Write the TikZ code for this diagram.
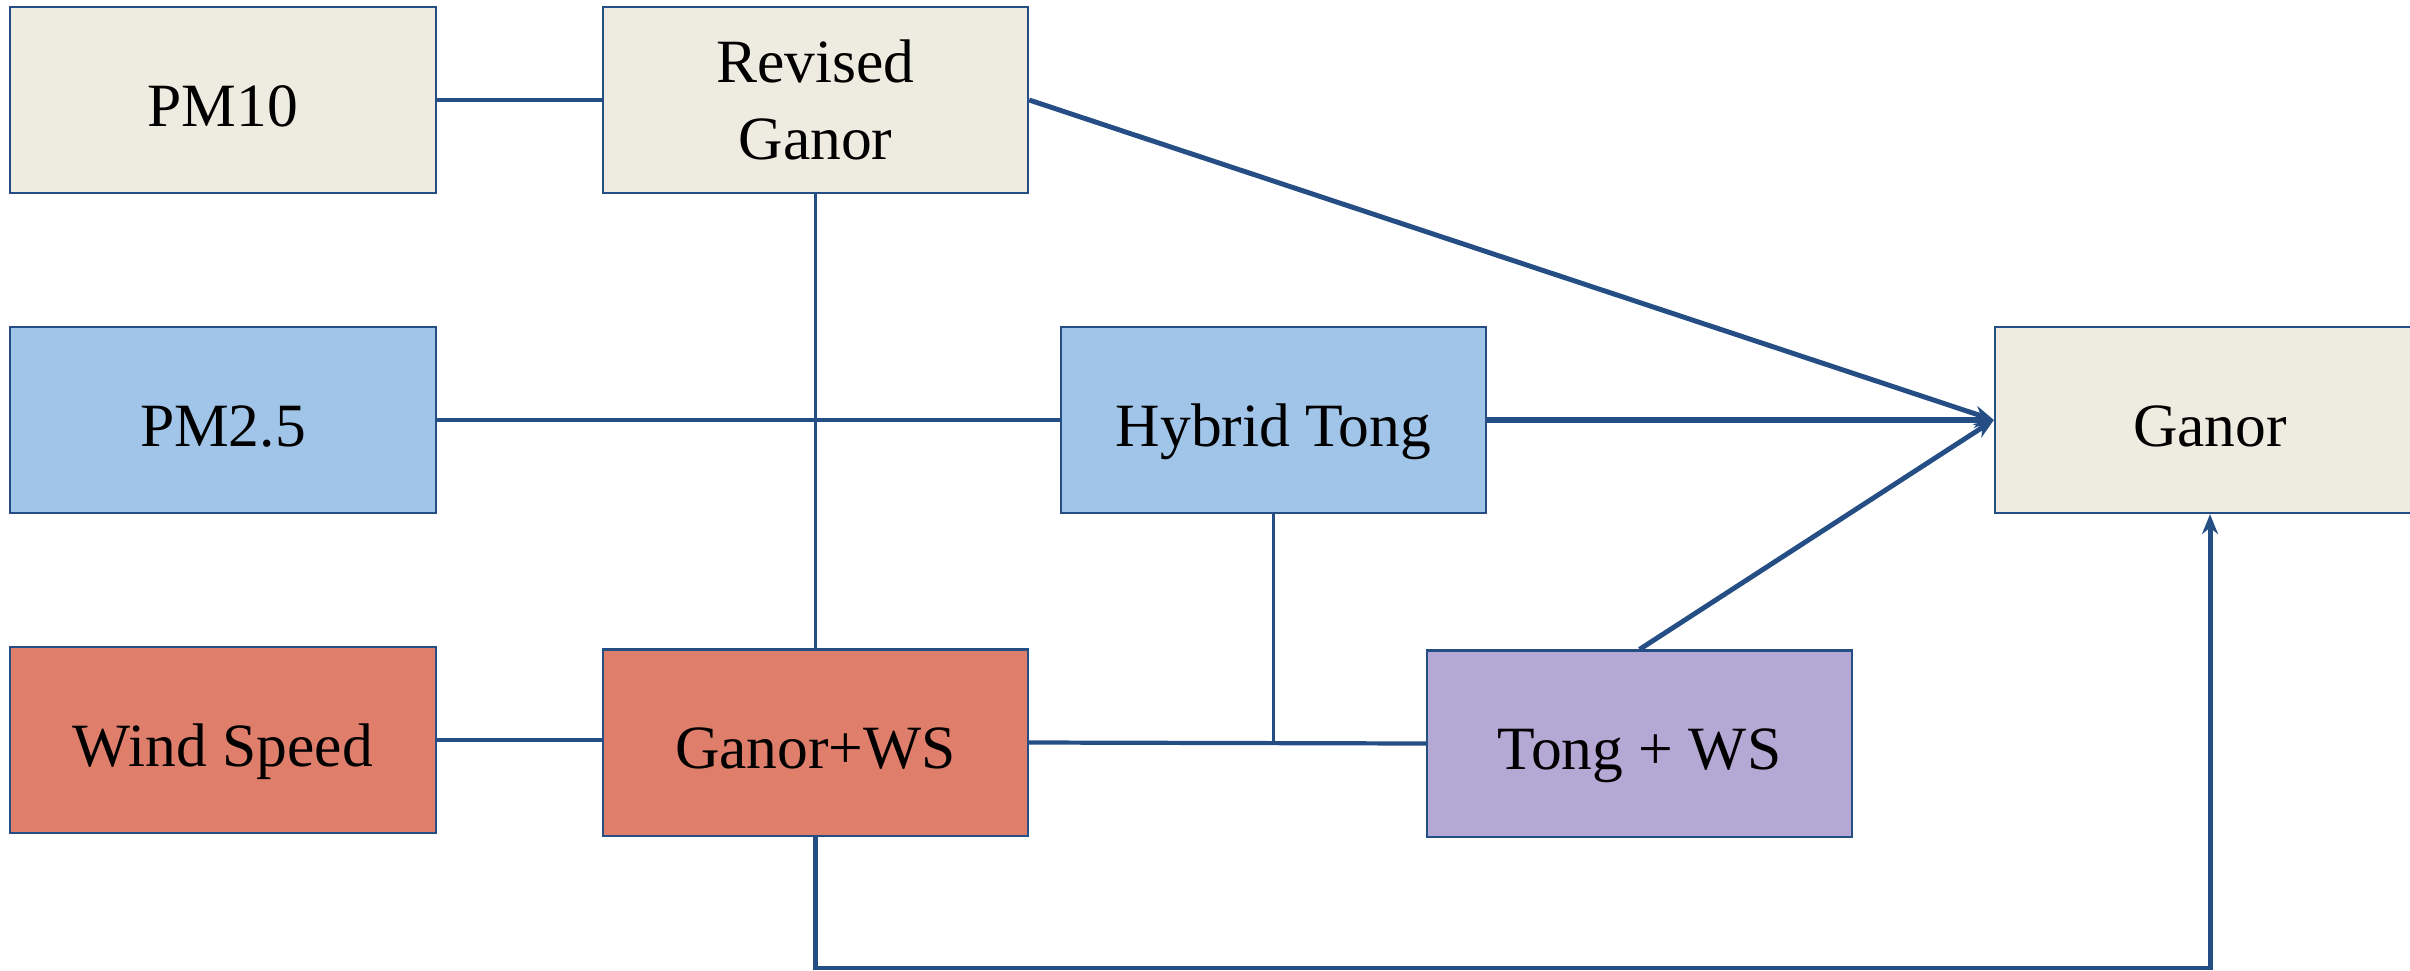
\documentclass[tikz,border=0pt]{standalone}
\usepackage{fontspec}
\setmainfont{Liberation Serif}
\usetikzlibrary{arrows.meta}
\definecolor{beige}{HTML}{EEEBE0}
\definecolor{lblue}{HTML}{A0C5E8}
\definecolor{lred}{HTML}{DE7E6B}
\definecolor{lpurple}{HTML}{B4A8D5}
\definecolor{edge}{HTML}{254E85}
\tikzset{
  box/.style={draw=edge, line width=0.6pt, inner sep=0pt, minimum width=4.25cm, minimum height=1.86cm,
    align=center, font=\fontsize{17.5}{22}\selectfont},
  one/.style={text height=15pt, text depth=0pt},
  thin link/.style={draw=edge, line width=1pt},
  thick link/.style={draw=edge, line width=1.4pt},
  arr/.style={-{Stealth[length=0.2cm,width=0.16cm]}},
}
\begin{document}
\begin{tikzpicture}[x=0.01cm,y=-0.01cm]
\useasboundingbox (0,0) rectangle (2410,970);
\node[box, one, fill=beige] (PM10) at (223,100) {PM10};
\node[box, fill=beige] (Rev) at (815.5,100) {Revised\\Ganor};
\node[box, one, fill=lblue] (PM25) at (223,420) {PM2.5};
\node[box, one, fill=lblue] (Hyb) at (1273.5,420) {Hybrid Tong};
\node[box, one, fill=beige, minimum width=4.3cm] (Ganor) at (2210,420) {Ganor};
\node[box, one, fill=lred] (Wind) at (223,740) {Wind Speed};
\node[box, one, fill=lred] (GWS) at (815.5,742.5) {Ganor+WS};
\node[box, one, fill=lpurple] (TWS) at (1639.5,743.5) {Tong + WS};
\coordinate (bot) at (0,968);
\coordinate (J) at (Hyb.south |- GWS.east);

\draw[thick link] (PM10.east) -- (Rev.west);
\draw[thin link] (Rev.south) -- (GWS.north);
\draw[thin link] (PM25.east) -- (Hyb.west);
\draw[thin link] (Wind.east) -- (Wind.east -| GWS.west);
\draw[thin link, line width=1.2pt] (GWS.east) -- (TWS.west);
\draw[thin link] (Hyb.south) -- (J);
\draw[thick link, arr] (Rev.east) -- (Ganor.west);
\draw[thick link, line width=1.7pt, arr] (Hyb.east) -- (Ganor.west);
\draw[thick link, arr] (TWS.north) -- (Ganor.west);
\draw[thick link, arr] (GWS.south) -- (GWS.south |- bot) -- (Ganor.south |- bot) -- (Ganor.south);
\end{tikzpicture}
\end{document}
